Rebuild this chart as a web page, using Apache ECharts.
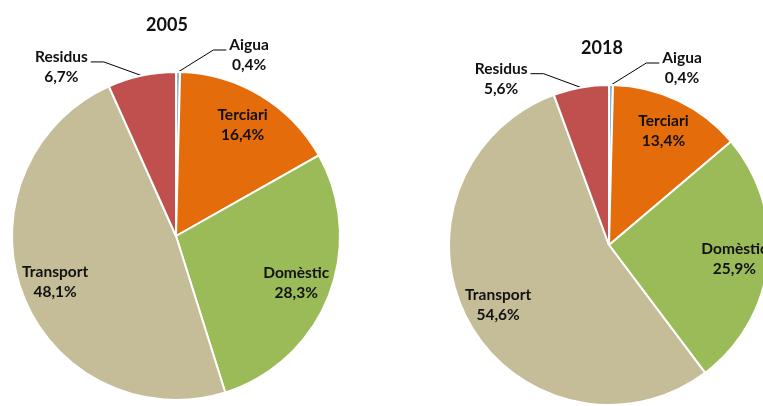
<!DOCTYPE html>
<html>
<head>
<meta charset="utf-8">
<script src="https://cdn.jsdelivr.net/npm/echarts@6/dist/echarts.min.js"></script>
<style>
  html, body { margin: 0; padding: 0; background: #fff; }
  #chart { width: 763px; height: 406px; }
</style>
</head>
<body>
<div id="chart"></div>
<script>
const categories = ['Aigua', 'Terciari', 'Domèstic', 'Transport', 'Residus'];
const years = ['2005', '2018'];
const values2005 = [0.4, 16.4, 28.3, 48.1, 6.7];
const values2018 = [0.4, 13.4, 25.9, 54.6, 5.6];
const outsideLabels = ['Aigua', 'Residus'];

const colors = ['#95B3D7', '#E46C0A', '#9BBB59', '#C4BD97', '#C0504D'];
const leadLength = { Aigua: 22, Residus: 14 };
const pies = [
  { values: values2005, center: [176, 236], r: 164, titleX: 162, titleY: 11 },
  { values: values2018, center: [609, 245], r: 160, titleX: 597, titleY: 34 }
];

const txt = {
  color: '#111',
  fontFamily: 'Lato',
  fontWeight: 'bold',
  fontSize: 15.5,
  lineHeight: 20,
  align: 'center'
};

function fmt(p) {
  return '{c|' + p.name + '}\n{c|' + p.value.toFixed(1).replace('.', ',') + '%}';
}

// bend the leader line near the label, like the excel ones
function bendLine(params) {
  const pts = params.labelLinePoints;
  if (!pts || pts.length < 3) return {};
  const dir = Math.sign(pts[1][0] - pts[2][0]);
  return {
    labelLinePoints: [pts[0], [pts[2][0] + dir * 13, pts[2][1]], pts[2]]
  };
}

const series = [];
pies.forEach(function (p) {
  const isOut = function (name) { return outsideLabels.indexOf(name) >= 0; };
  // slices + outside labels
  series.push({
    type: 'pie',
    center: p.center,
    radius: p.r,
    startAngle: 90,
    clockwise: true,
    avoidLabelOverlap: false,
    silent: true,
    itemStyle: { borderColor: '#fff', borderWidth: 2 },
    label: {
      position: 'outside',
      formatter: fmt,
      distanceToLabelLine: 3,
      padding: [10, 0, 0, 0],
      rich: { c: txt }
    },
    labelLine: {
      length: 17,
      length2: 48,
      lineStyle: { color: '#000', width: 1 }
    },
    labelLayout: bendLine,
    data: categories.map(function (name, i) {
      return {
        name: name,
        value: p.values[i],
        itemStyle: { color: colors[i] },
        label: { show: isOut(name) },
        labelLine: { show: isOut(name), length: leadLength[name] || 17 }
      };
    })
  });
  // transparent ring, only for the inner labels
  series.push({
    type: 'pie',
    center: p.center,
    radius: [p.r * 0.54, p.r],
    startAngle: 90,
    clockwise: true,
    avoidLabelOverlap: false,
    silent: true,
    itemStyle: { color: 'rgba(0,0,0,0)', borderWidth: 0 },
    label: {
      position: 'inside',
      formatter: fmt,
      rich: { c: txt }
    },
    labelLine: { show: false },
    data: categories.map(function (name, i) {
      return {
        name: name,
        value: p.values[i],
        label: { show: !isOut(name) }
      };
    })
  });
});

const chart = echarts.init(document.getElementById('chart'));
chart.setOption({
  animation: false,
  title: pies.map(function (p, i) {
    return {
      text: years[i],
      left: p.titleX,
      top: p.titleY,
      textAlign: 'center',
      textStyle: { fontFamily: 'Lato', fontWeight: 'bold', fontSize: 18, color: '#111' }
    };
  }),
  series: series
});
</script>
</body>
</html>
